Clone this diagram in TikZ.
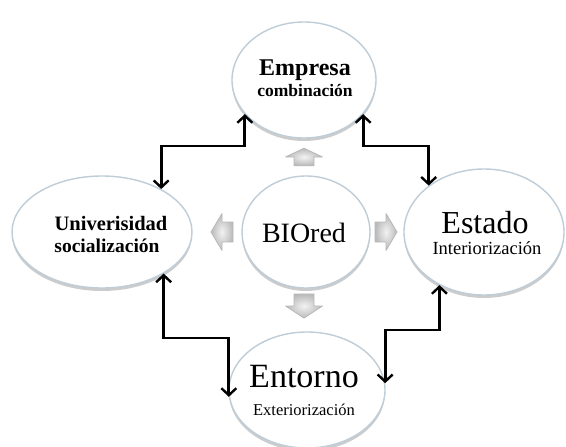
\documentclass[tikz,border=0pt]{standalone}
\usepackage{fontspec}
\setmainfont{Liberation Serif}
\usetikzlibrary{shapes.geometric,arrows.meta,shadows}
\definecolor{rim}{RGB}{190,205,216}
\tikzset{
  bubble/.style={ellipse,draw=rim,line width=1.4pt,fill=white,inner sep=0pt,
    drop shadow={shadow xshift=0pt,shadow yshift=-3pt,opacity=.4,fill=gray}},
  push/.style={draw=gray!55,line width=.8pt,line join=round,inner color=gray!10,outer color=gray!55},
  blockarrow/.pic={
    \path[push] (-11,-10) -- (0,-10) -- (0,-18.5) -- (11,0) -- (0,18.5) -- (0,10) -- (-11,10) -- cycle;
  },
  link/.style={line width=2.8pt,{Straight Barb[length=7pt,width=15pt,line width=2.4pt]}-{Straight Barb[length=7pt,width=15pt,line width=2.4pt]}},
  word/.style={anchor=base,font=\fontsize{#1}{#1}\selectfont},
  bword/.style={anchor=base,font=\bfseries\fontsize{#1}{#1}\selectfont},
}
\begin{document}
\begin{tikzpicture}[x=1pt,y=-1pt]
              \useasboundingbox (0,0) rectangle (566,447);
              % ellipses
              \node[bubble,minimum width=144pt,minimum height=116pt] (emp) at (304,80) {};
              \node[bubble,minimum width=180pt,minimum height=112pt] (uni) at (102,232) {};
              \node[bubble,minimum width=128pt,minimum height=112pt] (bio) at (306,232) {};
              \node[bubble,minimum width=160pt,minimum height=126pt] (est) at (484,232) {};
              \node[bubble,minimum width=156pt,minimum height=116pt] (ent) at (307,390) {};
              % texts
              \node[bword=24] (empname) at (305,75) {Empresa};
              \node[bword=17.5] (empmode) at (305,96) {combinación};
              \node[bword=20.5] (uniname) at (111,230) {Univerisidad};
              \node[bword=19.5] (unimode) at (107,252) {socialización};
              \node[word=28] (bioname) at (304,242) {BIOred};
              \node[word=32] (estname) at (485,233) {Estado};
              \node[word=18.5] (estmode) at (487,254) {Interiorización};
              \node[word=34] (entname) at (304,387) {Entorno};
              \node[word=16.5] (entmode) at (304,415) {Exteriorización};
              % block arrows
              \pic[rotate=90,xscale=.8] (aup) at (304,157) {blockarrow};
              \pic[rotate=180] (aleft) at (222,232) {blockarrow};
              \pic (aright) at (386,232) {blockarrow};
              \pic[rotate=270,xscale=1.1] (adown) at (304,306) {blockarrow};
              % links
              \coordinate (toprow) at (0,146);
              \coordinate (leftrow) at (0,338);
              \coordinate (rightrow) at (0,330);
              \draw[link] (emp.210) -- (emp.210 |- toprow) -| (uni.36);
              \draw[link] (emp.330) -- (emp.330 |- toprow) -| (est.140);
              \draw[link] (uni.326) -- (uni.326 |- leftrow) -| (ent.185);
              \draw[link] (ent.5) -- (ent.5 |- rightrow) -| (est.230);
        \end{tikzpicture}
\end{document}
